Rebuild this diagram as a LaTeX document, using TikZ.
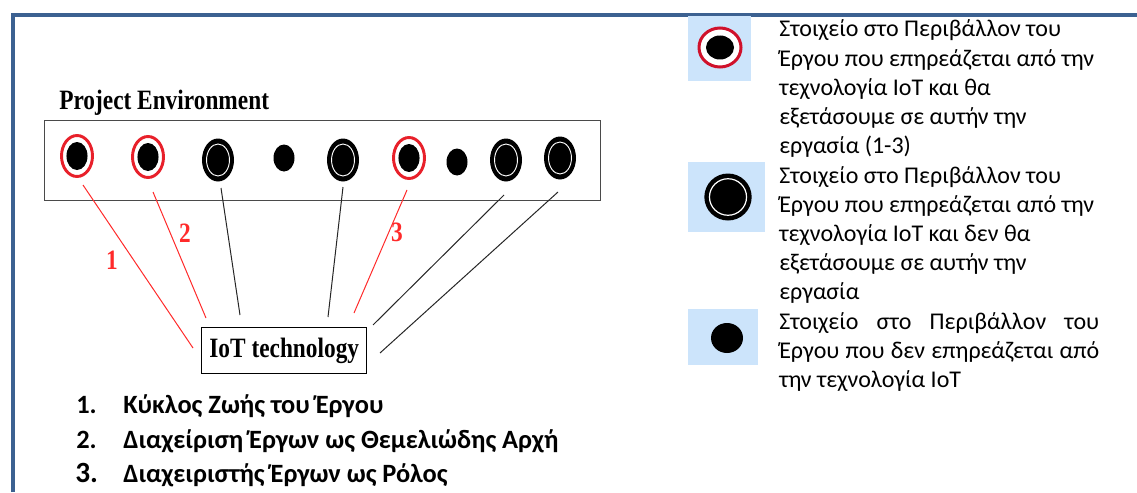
\documentclass[tikz,border=0pt]{standalone}
\usepackage{fontspec}
\usepackage{graphicx}
\setmainfont{Liberation Serif}
\newfontfamily\calib{Carlito}
\usetikzlibrary{shapes.geometric}
\definecolor{frameblue}{HTML}{3C6191}
\definecolor{ringred}{HTML}{E8202A}
\definecolor{legred}{HTML}{D0112B}
\definecolor{legblue}{HTML}{CCE4FB}
\definecolor{linered}{HTML}{FF2A2A}
\definecolor{boxgray}{HTML}{4A4A4A}
\begin{document}
\begin{tikzpicture}[x=0.75pt,y=-0.75pt,
  redring/.style={ellipse, draw=ringred, line width=2.2pt, fill=white,
    minimum width=23.25pt, minimum height=30.75pt, inner sep=0pt,
    path picture={\fill[black] (path picture bounding box.center) ellipse [x radius=7.9pt, y radius=10.5pt];}},
  blackring/.style={ellipse, fill=black, minimum width=24pt, minimum height=32.25pt, inner sep=0pt,
    path picture={\draw[white, line width=0.7pt] (path picture bounding box.center) ellipse [x radius=8.6pt, y radius=12pt];}},
  blackdot/.style={ellipse, fill=black, minimum width=15.75pt, minimum height=20.25pt, inner sep=0pt},
  legredring/.style={ellipse, draw=legred, line width=2.25pt, fill=white,
    minimum width=31.5pt, minimum height=29.25pt, inner sep=0pt,
    path picture={\fill[black] (path picture bounding box.center) ellipse [x radius=10.5pt, y radius=9pt];}},
  legblackring/.style={ellipse, fill=black, minimum width=35.5pt, minimum height=35.25pt, inner sep=0pt,
    path picture={\draw[white, line width=0.9pt] (path picture bounding box.center) ellipse [x radius=13.9pt, y radius=13.7pt];}},
  legdot/.style={ellipse, fill=black, minimum width=24pt, minimum height=22.5pt, inner sep=0pt},
  legsq/.style={fill=legblue, draw=none},
  redline/.style={draw=linered, line width=0.75pt},
  blackline/.style={draw=black!85, line width=0.75pt},
  serifbold/.style={font=\fontsize{17.5}{20}\selectfont\bfseries, inner sep=0pt},
  numlabel/.style={serifbold, text=linered},
  legtext/.style={font=\calib\fontsize{18}{22}\selectfont, anchor=base west, inner sep=0pt},
  listtext/.style={font=\calib\bfseries\fontsize{19.8}{24}\selectfont, anchor=base west, inner sep=0pt}
]
\useasboundingbox (0,0) rectangle (1137,492);
% frame
\draw[frameblue, line width=2.3pt] (13,492) -- (13,15) -- (1137,15);

% project environment
\node[serifbold, anchor=base west] (title) at (59,109) {\scalebox{1}[1.2]{Project Environment}};
\node[draw=boxgray, line width=1.1pt, minimum width=417pt, minimum height=60pt, inner sep=0pt, anchor=north west] (env) at (44,120) {};

\node[redring] (c1) at (77,156) {};
\node[redring] (c2) at (148,157) {};
\node[blackring] (c3) at (218,160) {};
\node[blackdot] (c4) at (284,158) {};
\node[blackring] (c5) at (343,160) {};
\node[redring] (c6) at (409,158) {};
\node[blackdot] (c7) at (457,162) {};
\node[blackring] (c8) at (506,160) {};
\node[blackring] (c9) at (560,158) {};

\node[draw=black, line width=1.1pt, minimum width=123.75pt, minimum height=34.5pt, inner sep=0pt, anchor=north west] (iot) at (201,327) {};
\node[serifbold] (iottext) at (iot.center) {\scalebox{1}[1.2]{IoT technology}};

% connector ends
\coordinate (s1) at (83,185);  \coordinate (e1) at (193,348);
\coordinate (s2) at (153,192); \coordinate (e2) at (206,318);
\coordinate (s3) at (221,188); \coordinate (e3) at (240,315);
\coordinate (s5) at (343,187); \coordinate (e5) at (328,317);
\coordinate (s6) at (407,190); \coordinate (e6) at (354,313);
\coordinate (s8) at (504,195); \coordinate (e8) at (373,325);
\coordinate (s9) at (558,192); \coordinate (e9) at (380,353);

\draw[redline] (s1) -- (e1);
\draw[redline] (s2) -- (e2);
\draw[blackline] (s3) -- (e3);
\draw[blackline] (s5) -- (e5);
\draw[redline] (s6) -- (e6);
\draw[blackline] (s8) -- (e8);
\draw[blackline] (s9) -- (e9);

\node[numlabel] (n1) at (112,260) {\scalebox{1}[1.2]{1}};
\node[numlabel] (n2) at (185,233) {\scalebox{1}[1.2]{2}};
\node[numlabel] (n3) at (397,232) {\scalebox{1}[1.2]{3}};

% list
\node[listtext] (l1n) at (76,413) {1.};
\node[listtext] (l1) at (123,413) {Κύκλος Ζωής του Έργου};
\node[listtext] (l2n) at (76,448) {2.};
\node[listtext] (l2) at (123,448) {Διαχείριση Έργων ως Θεμελιώδης Αρχή};
\node[listtext, font=\calib\bfseries\fontsize{22}{24}\selectfont] (l3n) at (75,482) {3.};
\node[listtext] (l3) at (123,482) {Διαχειριστής Έργων ως Ρόλος};

% legend
\fill[legsq] (688,16) rectangle (751,81);
\fill[legsq] (688,162) rectangle (765,232);
\fill[legsq] (688,309) rectangle (758,365);
\node[legredring] (k1) at (720,47.5) {};
\node[legblackring] (k2) at (728,197) {};
\node[legdot] (k3) at (727,338) {};

\node[legtext] (t1a) at (779,37) {Στοιχείο στο Περιβάλλον του};
\node[legtext] (t1b) at (779,66.2) {Έργου που επηρεάζεται από την};
\node[legtext] (t1c) at (779,95.4) {τεχνολογία IoT και θα};
\node[legtext] (t1d) at (779,124.6) {εξετάσουμε σε αυτήν την};
\node[legtext] (t1e) at (779,153.8) {εργασία (1-3)};
\node[legtext] (t2a) at (779,183) {Στοιχείο στο Περιβάλλον του};
\node[legtext] (t2b) at (779,212.2) {Έργου που επηρεάζεται από την};
\node[legtext] (t2c) at (779,241.4) {τεχνολογία IoT και δεν θα};
\node[legtext] (t2d) at (779,270.6) {εξετάσουμε σε αυτήν την};
\node[legtext] (t2e) at (779,299.8) {εργασία};
\node[legtext] (t3a) at (779,329) {\makebox[240pt][s]{Στοιχείο\hfill στο\hfill Περιβάλλον\hfill του}};
\node[legtext] (t3b) at (779,358.2) {\makebox[240pt][s]{Έργου\hfill που\hfill δεν\hfill επηρεάζεται\hfill από}};
\node[legtext] (t3c) at (779,387.4) {την τεχνολογία IoT};
\end{tikzpicture}
\end{document}
